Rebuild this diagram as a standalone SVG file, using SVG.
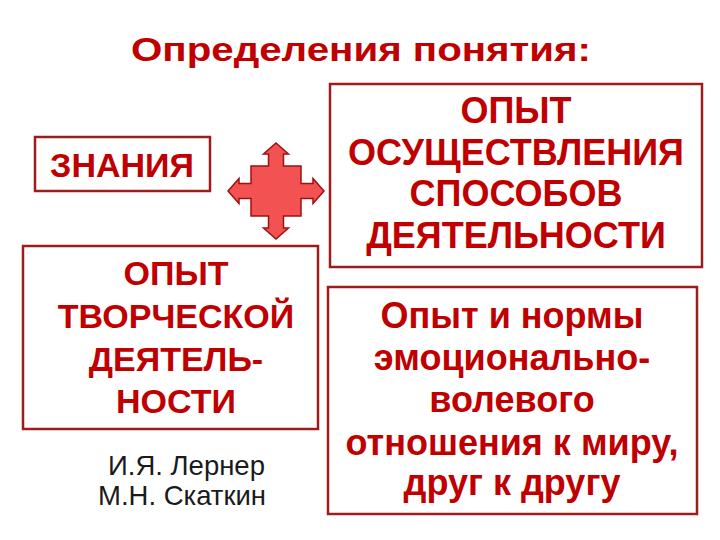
<svg xmlns="http://www.w3.org/2000/svg" width="720" height="540" viewBox="0 0 720 540">
<style>
.box{fill:#fff;stroke:#9e1c1c;stroke-width:2.5}
.t{font-family:"Liberation Sans",Arial,sans-serif;font-weight:bold;fill:#c00000;text-anchor:middle}
.a{font-family:"Liberation Sans",Arial,sans-serif;fill:#1a1a1a;font-size:27.5px}
</style>
<rect width="720" height="540" fill="#fff"/>
<text class="t" x="361" y="61" font-size="33" textLength="460" lengthAdjust="spacingAndGlyphs">Определения понятия:</text>
<g id="znaniya">
<rect class="box" x="35" y="137" width="175" height="54"/>
<text class="t" x="122" y="177" font-size="34">ЗНАНИЯ</text>
</g>
<g id="cross">
<polygon fill="#f25252" stroke="#a01010" stroke-width="1.5" points="276,143 288.5,154 283.5,154 283.5,166 301,166 301,183.5 313,183.5 313,178.5 324,191 313,203.5 313,198.5 301,198.5 301,216 283.5,216 283.5,228 288.5,228 276,239 263.5,228 268.5,228 268.5,216 251,216 251,198.5 239,198.5 239,203.5 228,191 239,178.5 239,183.5 251,183.5 251,166 268.5,166 268.5,154 263.5,154"/>
</g>
<g id="tvorch">
<rect class="box" x="23" y="246" width="295" height="183"/>
<text class="t" font-size="34"><tspan x="176" y="285">ОПЫТ</tspan><tspan x="176" y="328">ТВОРЧЕСКОЙ</tspan><tspan x="176" y="371">ДЕЯТЕЛЬ-</tspan><tspan x="176" y="413">НОСТИ</tspan></text>
</g>
<g id="osush">
<rect class="box" x="330" y="84" width="372" height="183"/>
<text class="t" font-size="36"><tspan x="516" y="123">ОПЫТ</tspan><tspan x="516" y="165">ОСУЩЕСТВЛЕНИЯ</tspan><tspan x="516" y="206">СПОСОБОВ</tspan><tspan x="516" y="248">ДЕЯТЕЛЬНОСТИ</tspan></text>
</g>
<g id="normy">
<rect class="box" x="328" y="287" width="369" height="227"/>
<text class="t" font-size="36"><tspan x="512" y="328">Опыт и нормы</tspan><tspan x="512" y="370">эмоционально-</tspan><tspan x="512" y="412">волевого</tspan><tspan x="512" y="455">отношения к миру,</tspan><tspan x="512" y="495">друг к другу</tspan></text>
</g>
<g id="authors">
<text class="a" x="108" y="475">И.Я. Лернер</text>
<text class="a" x="98" y="505">М.Н. Скаткин</text>
</g>
<g id="connectors"/>
</svg>
